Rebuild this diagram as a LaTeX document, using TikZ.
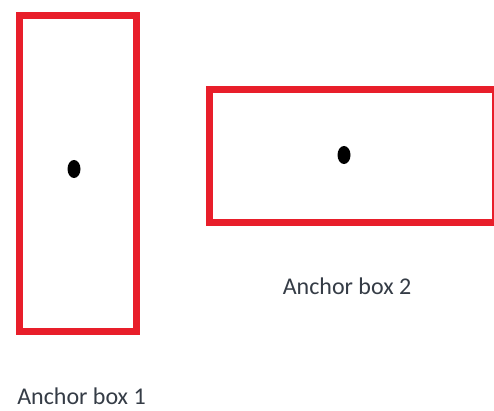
\documentclass[tikz,border=0pt]{standalone}
\usepackage{fontspec}
\setmainfont{Carlito}
\usetikzlibrary{shapes.geometric}
\definecolor{boxred}{HTML}{E81E2A}
\definecolor{labelgray}{HTML}{353C46}
\begin{document}
\begin{tikzpicture}[x=1pt,y=1pt,
  anchorbox/.style={draw=boxred,line width=7pt,inner sep=0pt,outer sep=0pt},
  centerdot/.style={fill=black,ellipse,inner sep=0pt,minimum width=13pt,minimum height=18pt},
  boxlabel/.style={text=labelgray,font=\fontsize{24}{28}\selectfont,inner sep=0pt}]
\clip (0,0) rectangle (494,410);
\fill[white] (0,0) rectangle (494,410);
% tall box
\node[anchorbox,minimum width=116.5pt,minimum height=315pt] (box1) at (77.75,236.5) {};
% wide box, running past the right edge
\node[anchorbox,minimum width=285.5pt,minimum height=132.5pt] (box2) at (352.25,253.75) {};
\node[centerdot] (dot1) at (74,241) {};
\node[centerdot] (dot2) at (344,255) {};
\node[boxlabel] (label2) at (347,124) {Anchor box 2};
\node[boxlabel] (label1) at (81.5,14) {Anchor box 1};
\end{tikzpicture}
\end{document}
